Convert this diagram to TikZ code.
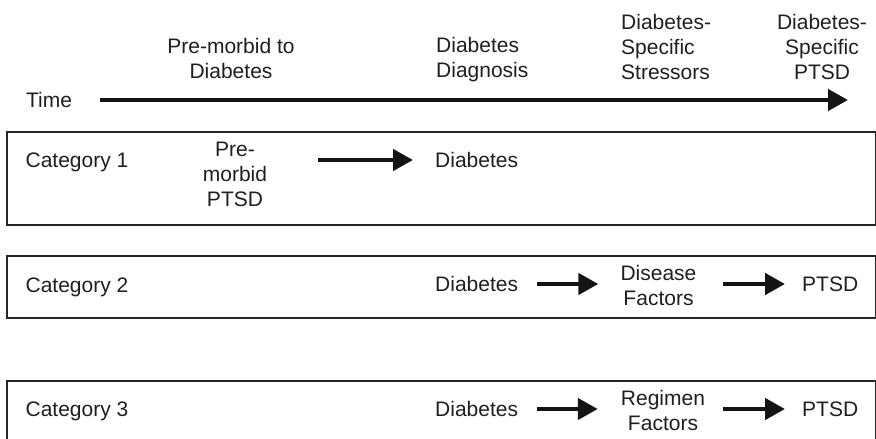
\documentclass[tikz,border=0pt]{standalone}
\usepackage{fontspec}
\setmainfont{Liberation Sans}
\usetikzlibrary{arrows.meta}

\begin{document}
\begin{tikzpicture}[x=1pt,y=-1pt]
	\tikzstyle{every node}+=[inner sep=0pt, text=black!88, font=\fontsize{21}{25}\selectfont]
	\tikzstyle{catbox}=[draw=black!85, line width=1.6pt]
	\tikzstyle{flow}=[black!92, line width=4.5pt, -{Triangle[length=20pt,width=21pt]}]
	\useasboundingbox (0,0) rectangle (876,439);
	\node [align=center] (hpre) at (231,58.5) {Pre-morbid to\\Diabetes};
	\node [align=left, anchor=west] (hdiag) at (436,59.5) {Diabetes\\Diagnosis};
	\node [align=left, anchor=west] (hstress) at (621,47) {Diabetes-\\Specific\\Stressors};
	\node [align=center] (hptsd) at (822,47) {Diabetes-\\Specific\\PTSD};
	\node (time) at (49,100) {Time};
	\coordinate (tend) at (848,100);
	\draw [flow, shorten <=28pt] (time.east) -- (tend);
	\draw [catbox] (7,132) rectangle (875.5,225);
	\node (cat1) at (77,162) {Category 1};
	\node [align=center] (pre1) at (235,174.5) {Pre-\\morbid\\PTSD};
	\node [anchor=west] (dia1) at (435,160) {Diabetes};
	\draw [flow, shorten <=51pt, shorten >=22pt] (pre1.east |- dia1.west) -- (dia1.west);
	\draw [catbox] (7,256) rectangle (875.5,318);
	\node (cat2) at (77,287) {Category 2};
	\node [anchor=west] (dia2) at (435,284) {Diabetes};
	\node [align=center] (dis2) at (658.5,285.5) {Disease\\Factors};
	\node [anchor=west] (ptsd2) at (802,284) {PTSD};
	\draw [flow, shorten <=19pt, shorten >=22pt] (dia2.east) -- (dia2.east -| dis2.west);
	\draw [flow, shorten <=26pt, shorten >=17pt] (dia2.east -| dis2.east) -- (ptsd2.west);
	\draw [catbox] (7,446) |- (875.5,381) -- (875.5,446);
	\node (cat3) at (77,411) {Category 3};
	\node [anchor=west] (dia3) at (435,409) {Diabetes};
	\node [align=center] (reg3) at (663,410.5) {Regimen\\Factors};
	\node [anchor=west] (ptsd3) at (802,409) {PTSD};
	\draw [flow, shorten <=19pt, shorten >=23pt] (dia3.east) -- (dia3.east -| reg3.west);
	\draw [flow, shorten <=18pt, shorten >=17pt] (dia3.east -| reg3.east) -- (ptsd3.west);
\end{tikzpicture}
\end{document}
